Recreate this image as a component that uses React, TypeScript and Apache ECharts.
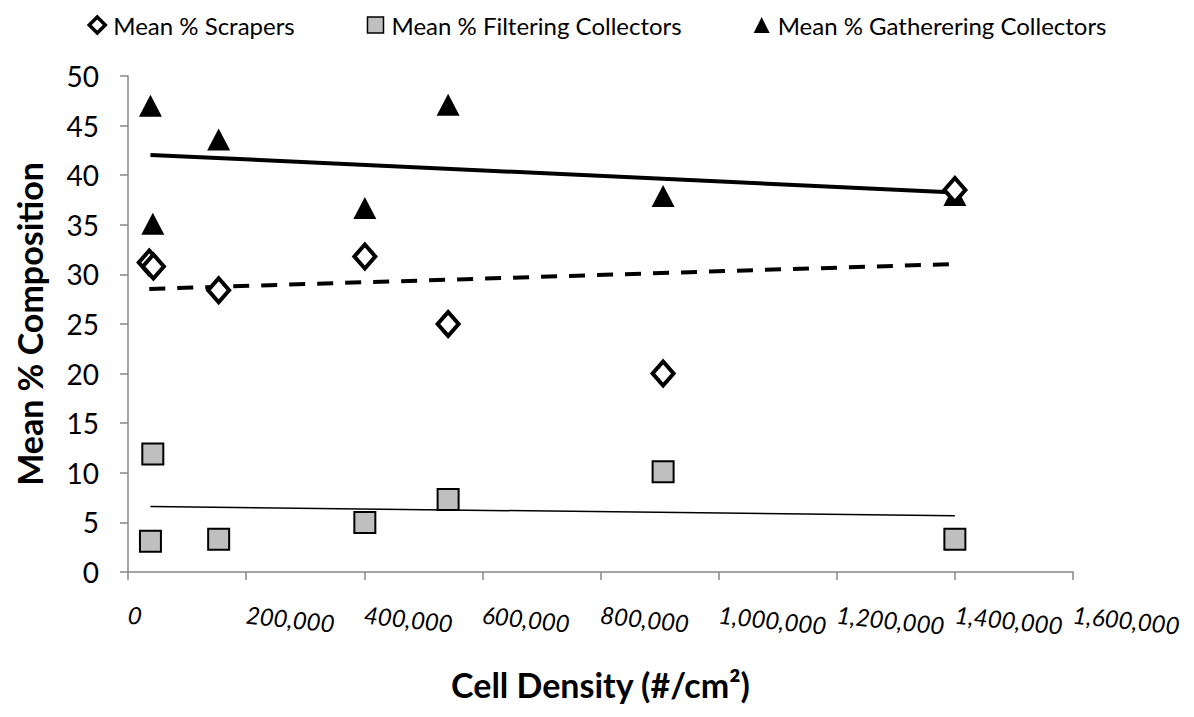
import React, { useEffect, useRef } from "react";
import * as echarts from "echarts";

const scraperDensity = [36000, 43000, 153500, 401000, 542000, 906000, 1400000];
const scrapers = [31.2, 30.8, 28.4, 31.8, 25.0, 20.0, 38.5];
const filteringDensity = [38000, 42000, 153500, 401000, 542000, 906000, 1400000];
const filtering = [3.1, 11.9, 3.3, 5.0, 7.3, 10.1, 3.3];
const gatheringDensity = [38000, 42000, 153500, 401000, 542000, 906000, 1400000];
const gathering = [47.0, 35.1, 43.6, 36.7, 47.1, 37.9, 38.0];

const xTicks = [0, 200000, 400000, 600000, 800000, 1000000, 1200000, 1400000, 1600000];
const yTicks = [0, 5, 10, 15, 20, 25, 30, 35, 40, 45, 50];

const seriesNames = ["Mean % Scrapers", "Mean % Filtering Collectors", "Mean % Gatherering Collectors"];

function trend(xs: number[], ys: number[]): number[][] {
  const n = xs.length;
  const mx = xs.reduce((a, b) => a + b, 0) / n;
  const my = ys.reduce((a, b) => a + b, 0) / n;
  let sxy = 0, sxx = 0;
  for (let i = 0; i < n; i++) {
    sxy += (xs[i] - mx) * (ys[i] - my);
    sxx += (xs[i] - mx) * (xs[i] - mx);
  }
  const b = sxy / sxx;
  const a = my - b * mx;
  const x0 = Math.min(...xs), x1 = Math.max(...xs);
  return [[x0, a + b * x0], [x1, a + b * x1]];
}

const pairs = (xs: number[], ys: number[]) => xs.map((x, i) => [x, ys[i]]);

const FONT = "Lato, 'Open Sans', sans-serif";

export default function App() {
  const ref = useRef<HTMLDivElement>(null);
  useEffect(() => {
    if (!ref.current) return;
    const chart = echarts.init(ref.current, undefined, { renderer: "svg" });
    const fmt = (v: number) => v.toLocaleString("en-US");
    chart.setOption({
      animation: false,
      backgroundColor: "#ffffff",
      textStyle: { fontFamily: FONT },
      legend: {
        data: [
          { name: seriesNames[0], itemStyle: { color: "#fff", borderColor: "#000", borderWidth: 3.5 } },
          { name: seriesNames[1], itemStyle: { color: "#BFBFBF", borderColor: "#000", borderWidth: 1.5 } },
          { name: seriesNames[2], itemStyle: { color: "#000" } },
        ],
        top: 8,
        left: "center",
        itemGap: 72,
        itemWidth: 16,
        itemHeight: 16,
        textStyle: { fontFamily: FONT, fontSize: 24, color: "#000", padding: [0, 0, 0, 3] },
      },
      grid: { left: 128, right: 121, top: 76, bottom: 145, containLabel: false },
      xAxis: {
        type: "value",
        min: xTicks[0],
        max: xTicks[xTicks.length - 1],
        interval: xTicks[1] - xTicks[0],
        splitLine: { show: false },
        axisLine: { show: true, onZero: false, lineStyle: { color: "#868686", width: 1.5 } },
        axisTick: { show: true, length: 8, lineStyle: { color: "#868686", width: 1.5 } },
        axisLabel: {
          formatter: (v: number) => fmt(v),
          rotate: -6,
          align: "left",
          verticalAlign: "middle",
          margin: 42,
          fontSize: 24,
          fontStyle: "italic",
          color: "#000",
          fontFamily: FONT,
          showMaxLabel: true,
          hideOverlap: false,
        },
        name: "Cell Density (#/cm²)",
        nameLocation: "middle",
        nameGap: 95,
        nameTextStyle: { fontSize: 34, fontWeight: "bold", color: "#000", fontFamily: FONT },
      },
      yAxis: {
        type: "value",
        min: yTicks[0],
        max: yTicks[yTicks.length - 1],
        interval: yTicks[1] - yTicks[0],
        splitLine: { show: false },
        axisLine: { show: true, lineStyle: { color: "#868686", width: 1.5 } },
        axisTick: { show: true, length: 8, lineStyle: { color: "#868686", width: 1.5 } },
        axisLabel: { fontSize: 28, color: "#000", margin: 29, fontFamily: FONT },
        name: "Mean % Composition",
        nameLocation: "middle",
        nameGap: 82,
        nameTextStyle: { fontSize: 34, fontWeight: "bold", color: "#000", fontFamily: FONT },
      },
      series: [
        {
          name: "trend-scrapers",
          type: "line",
          data: trend(scraperDensity, scrapers),
          symbol: "none",
          lineStyle: { color: "#000", width: 4, type: [16, 12] },
          z: 1,
          silent: true,
        },
        {
          name: "trend-filtering",
          type: "line",
          data: trend(filteringDensity, filtering),
          symbol: "none",
          lineStyle: { color: "#000", width: 1.5 },
          z: 1,
          silent: true,
        },
        {
          name: "trend-gathering",
          type: "line",
          data: trend(gatheringDensity, gathering),
          symbol: "none",
          lineStyle: { color: "#000", width: 4 },
          z: 1,
          silent: true,
        },
        {
          name: seriesNames[0],
          type: "scatter",
          data: pairs(scraperDensity, scrapers),
          symbol: "diamond",
          symbolSize: [21, 24],
          itemStyle: { color: "#ffffff", borderColor: "#000", borderWidth: 4, opacity: 1 },
          z: 3,
        },
        {
          name: seriesNames[1],
          type: "scatter",
          data: pairs(filteringDensity, filtering),
          symbol: "rect",
          symbolSize: 21,
          itemStyle: { color: "#BFBFBF", borderColor: "#000", borderWidth: 2, opacity: 1 },
          z: 3,
        },
        {
          name: seriesNames[2],
          type: "scatter",
          data: pairs(gatheringDensity, gathering),
          symbol: "triangle",
          symbolSize: [23, 22],
          itemStyle: { color: "#000", opacity: 1 },
          z: 2,
        },
      ],
    });
    return () => chart.dispose();
  }, []);
  return <div ref={ref} style={{ width: 1194, height: 717, position: "absolute", left: 0, top: 0 }} />;
}
